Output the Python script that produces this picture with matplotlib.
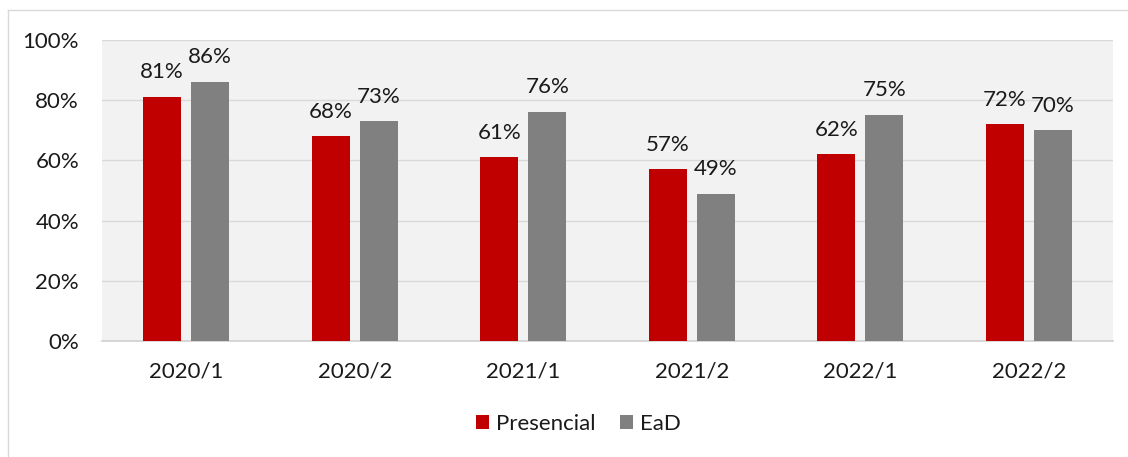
import matplotlib
matplotlib.use("Agg")
import matplotlib.pyplot as plt
import numpy as np
from matplotlib.lines import Line2D
from matplotlib.patches import Patch

plt.rcParams['font.family'] = ['Lato', 'DejaVu Sans']

categories = ["2020/1", "2020/2", "2021/1", "2021/2", "2022/1", "2022/2"]
presencial = [81, 68, 61, 57, 62, 72]
ead = [86, 73, 76, 49, 75, 70]
series_names = ["Presencial", "EaD"]
colors = ["#C00000", "#808080"]

W, H = 1128, 457
fig = plt.figure(figsize=(W / 100, H / 100), dpi=100)
fig.patch.set_facecolor("white")

# outer chart frame (top and left visible)
fig.add_artist(Line2D([8 / W, 1.0], [1 - 10 / H, 1 - 10 / H], color="#D9D9D9", lw=1.0))
fig.add_artist(Line2D([8 / W, 8 / W], [0, 1 - 10 / H], color="#D9D9D9", lw=1.0))

left, right, top, bottom = 102, 1113, 40, 341
ax = fig.add_axes([left / W, 1 - bottom / H, (right - left) / W, (bottom - top) / H])
ax.set_facecolor("#F2F2F2")

x = np.arange(len(categories))
bw = 0.225
gap = 0.06
off = (bw + gap) / 2
b1 = ax.bar(x - off, presencial, bw, color=colors[0], label=series_names[0], zorder=3)
b2 = ax.bar(x + off, ead, bw, color=colors[1], label=series_names[1], zorder=3)

for bars, vals in ((b1, presencial), (b2, ead)):
    for rect, v in zip(bars, vals):
        ax.annotate(f"{v}%", (rect.get_x() + rect.get_width() / 2, v),
                    xytext=(0, 13.5), textcoords="offset points",
                    ha="center", va="baseline", fontsize=16, color="#1a1a1a", zorder=4)

ax.set_xlim(-0.5, len(categories) - 0.5)
ax.set_ylim(0, 100)
ax.set_yticks(range(0, 101, 20))
ax.set_yticklabels([f"{t}%" for t in range(0, 101, 20)])
ax.set_xticks(x)
ax.set_xticklabels(categories)
ax.tick_params(axis="both", length=0, labelsize=16, labelcolor="#1a1a1a")
ax.tick_params(axis="y", pad=16.5)
ax.tick_params(axis="x", pad=15)
ax.grid(axis="y", color="#D9D9D9", lw=1.0, zorder=0)
for s in ["top", "right", "left"]:
    ax.spines[s].set_visible(False)
ax.spines["bottom"].set_color("#D0D0D0")
ax.spines["bottom"].set_linewidth(1.2)

handles = [Patch(facecolor=c, label=n) for c, n in zip(colors, series_names)]
fig.legend(handles=handles, loc="center", bbox_to_anchor=(578 / W, 1 - 424 / H),
           ncol=2, frameon=False, fontsize=16, handlelength=0.6, handleheight=0.6,
           handletextpad=0.3, columnspacing=1.1, labelcolor="#1a1a1a")

fig.savefig("out.png", dpi=100, facecolor="white")
